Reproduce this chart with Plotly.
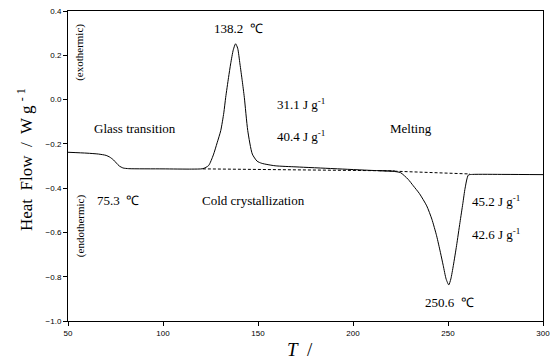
import plotly.graph_objects as go

# DSC curve
T = [50, 60, 66, 70, 72, 74, 75.5, 77, 79, 82, 100, 115, 121, 124, 126.5, 128.5, 130.4, 132, 133,
     134.5, 135.6, 137, 138.2, 139.3, 140.5, 141.7, 142.8, 144.6, 147, 149.5, 152, 159, 170, 190,
     210, 221, 225, 229, 231.7, 235, 238.8, 241.5, 244, 246, 247.5, 249, 250.4, 251.5, 252.8, 254.5,
     256.3, 257.8, 259, 260.7, 263, 280, 300]
HF = [-0.238, -0.242, -0.246, -0.252, -0.260, -0.273, -0.287, -0.300, -0.309, -0.312, -0.313, -0.314,
      -0.312, -0.298, -0.250, -0.195, -0.140, -0.060, 0.010, 0.100, 0.161, 0.225, 0.252, 0.232, 0.161,
      0.085, 0.010, -0.140, -0.246, -0.278, -0.288, -0.299, -0.304, -0.312, -0.320, -0.324, -0.330,
      -0.360, -0.389, -0.425, -0.480, -0.540, -0.615, -0.690, -0.750, -0.810, -0.837, -0.810, -0.750,
      -0.660, -0.555, -0.470, -0.400, -0.341, -0.338, -0.338, -0.339]

# dashed baselines
base1_T = [121, 222]
base1_HF = [-0.313, -0.322]
base2_T = [214, 261.6]
base2_HF = [-0.321, -0.336]

x_ticks = [50, 100, 150, 200, 250, 300]
y_ticks = [-1.0, -0.8, -0.6, -0.4, -0.2, 0.0, 0.2, 0.4]

# annotations: (x, y, text, anchor)
labels = [
    (139.5, 0.321, "138.2  \u2103", "center"),
    (159, -0.018, "31.1 J g<sup>-1</sup>", "left"),
    (159, -0.163, "40.4 J g<sup>-1</sup>", "left"),
    (62.6, -0.131, "Glass transition", "left"),
    (218.4, -0.131, "Melting", "left"),
    (64.2, -0.457, "75.3  \u2103", "left"),
    (119.5, -0.457, "Cold crystallization", "left"),
    (261.6, -0.457, "45.2 J g<sup>-1</sup>", "left"),
    (261.6, -0.606, "42.6 J g<sup>-1</sup>", "left"),
    (251, -0.917, "250.6  \u2103", "center"),
]

serif = "Liberation Serif, Times New Roman, serif"

# plot area is 475 x 310 px
PW, PH = 475.0, 310.0

fig = go.Figure()
fig.add_trace(go.Scatter(x=T, y=HF, mode="lines", line=dict(color="black", width=1, shape="spline", smoothing=0.6),
                         showlegend=False, hoverinfo="skip"))
fig.add_trace(go.Scatter(x=base1_T, y=base1_HF, mode="lines", line=dict(color="black", width=1, dash="3px,2px"),
                         showlegend=False, hoverinfo="skip"))
fig.add_trace(go.Scatter(x=base2_T, y=base2_HF, mode="lines", line=dict(color="black", width=1, dash="3px,2px"),
                         showlegend=False, hoverinfo="skip"))

for x, y, t, a in labels:
    fig.add_annotation(x=x, y=y, text=t, showarrow=False, xanchor=a, yanchor="middle",
                       font=dict(family=serif, size=13, color="black"))

fig.add_annotation(xref="paper", yref="paper", x=12 / PW, y=0.865, text="(exothermic)", textangle=-90,
                   showarrow=False, xanchor="center", yanchor="middle",
                   font=dict(family=serif, size=11, color="black"))
fig.add_annotation(xref="paper", yref="paper", x=12 / PW, y=0.306, text="(endothermic)", textangle=-90,
                   showarrow=False, xanchor="center", yanchor="middle",
                   font=dict(family=serif, size=11, color="black"))

# axis titles placed relative to the plot area
fig.add_annotation(xref="paper", yref="paper", x=-43 / PW, y=161 / PH,
                   text="Heat  Flow  /  W g <sup>- 1</sup>", textangle=-90, showarrow=False,
                   xanchor="center", yanchor="middle",
                   font=dict(family=serif, size=17, color="black"))
fig.add_annotation(xref="paper", yref="paper", x=232 / PW, y=-28 / PH,
                   text="<i>T</i>  /", showarrow=False, xanchor="center", yanchor="middle",
                   font=dict(family=serif, size=19, color="black"))

fig.update_layout(
    width=553, height=360,
    margin=dict(l=68, r=10, t=11, b=39, autoexpand=False),
    paper_bgcolor="white", plot_bgcolor="white",
    showlegend=False,
)
fig.update_xaxes(range=[50, 300], tickvals=x_ticks, ticks="outside", ticklen=4, tickcolor="black",
                 showline=True, linecolor="black", linewidth=1, mirror=True, showgrid=False, zeroline=False,
                 automargin=False,
                 tickfont=dict(family="Liberation Sans, Arial", size=8, color="black"))
fig.update_yaxes(range=[-1.0, 0.4], tickvals=y_ticks, tickformat=".1f", ticks="outside", ticklen=4,
                 tickcolor="black", showline=True, linecolor="black", linewidth=1, mirror=True,
                 showgrid=False, zeroline=False, automargin=False,
                 tickfont=dict(family="Liberation Sans, Arial", size=8, color="black"))

# remove the default page margin so the figure fills the window exactly
fig.write_html("out.html", config={"displayModeBar": False},
               post_script="document.body.style.margin='0px';document.body.style.overflow='hidden';")
